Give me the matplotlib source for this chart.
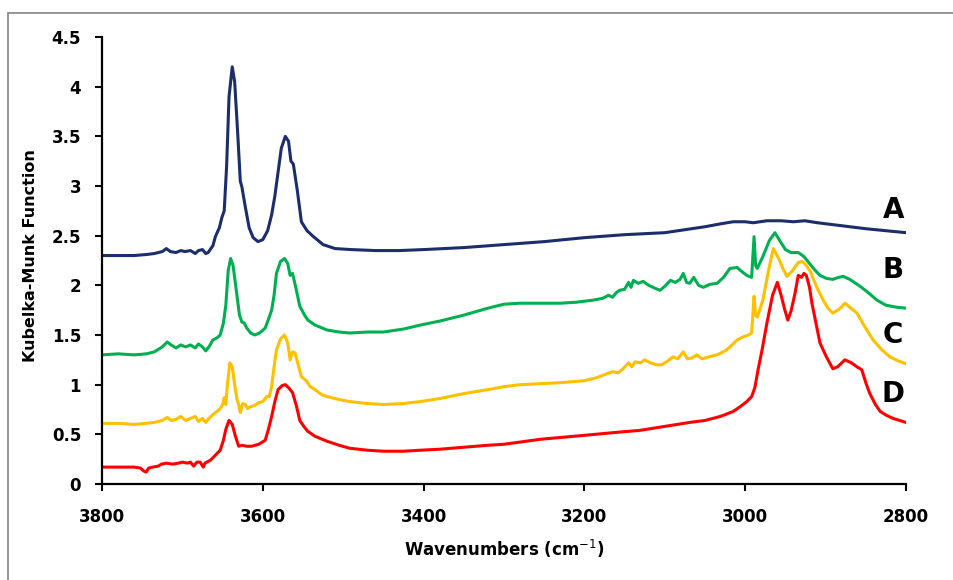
import matplotlib
matplotlib.use("Agg")
import matplotlib.pyplot as plt
from matplotlib.patches import Rectangle
from matplotlib.ticker import FuncFormatter, MultipleLocator

# ---- spectra (wavenumber, Kubelka-Munk value) ----
wn_a = [3800, 3780, 3760, 3745, 3735, 3725, 3720, 3715, 3708, 3702, 3697, 3690, 3684, 3680,
        3675, 3671, 3668, 3662, 3659, 3654, 3651, 3648, 3645, 3642, 3638, 3635, 3631, 3628,
        3626, 3622, 3617, 3612, 3606, 3600, 3594, 3589, 3585, 3581, 3577, 3572, 3568, 3565,
        3562, 3557, 3552, 3545, 3537, 3525, 3510, 3490, 3460, 3430, 3400, 3350, 3300, 3250,
        3200, 3150, 3100, 3075, 3050, 3030, 3015, 3000, 2990, 2973, 2955, 2940, 2926, 2910,
        2880, 2850, 2825, 2800]
km_a = [2.30, 2.30, 2.30, 2.31, 2.32, 2.34, 2.37, 2.34, 2.33, 2.35, 2.34, 2.35, 2.32, 2.35,
        2.36, 2.32, 2.33, 2.40, 2.49, 2.58, 2.68, 2.75, 3.20, 3.90, 4.20, 4.05, 3.50, 3.05,
        2.99, 2.80, 2.58, 2.48, 2.44, 2.46, 2.55, 2.71, 2.90, 3.14, 3.38, 3.50, 3.45, 3.25,
        3.22, 2.95, 2.64, 2.55, 2.49, 2.41, 2.37, 2.36, 2.35, 2.35, 2.36, 2.38, 2.41, 2.44,
        2.48, 2.51, 2.53, 2.56, 2.59, 2.62, 2.64, 2.64, 2.63, 2.65, 2.65, 2.64, 2.65, 2.63,
        2.60, 2.57, 2.55, 2.53]

wn_b = [3800, 3780, 3760, 3745, 3735, 3725, 3719, 3714, 3708, 3702, 3696, 3690, 3684, 3680,
        3675, 3671, 3667, 3662, 3657, 3653, 3649, 3646, 3643, 3640, 3637, 3633, 3629, 3626,
        3623, 3620, 3615, 3610, 3604, 3597, 3592, 3589, 3586, 3583, 3578, 3573, 3569, 3566,
        3563, 3559, 3554, 3548, 3544, 3535, 3520, 3505, 3492, 3470, 3450, 3425, 3404, 3380,
        3350, 3320, 3300, 3280, 3255, 3230, 3210, 3190, 3177, 3170, 3165, 3160, 3156, 3150,
        3145, 3142, 3139, 3133, 3127, 3120, 3112, 3106, 3100, 3093, 3087, 3081, 3077, 3073,
        3069, 3064, 3058, 3052, 3044, 3035, 3027, 3019, 3010, 3006, 2998, 2992, 2989, 2987,
        2985, 2978, 2970, 2963, 2957, 2950, 2943, 2934, 2927, 2922, 2914, 2907, 2899, 2891,
        2884, 2878, 2870, 2857, 2846, 2836, 2825, 2812, 2800]
km_b = [1.30, 1.31, 1.30, 1.31, 1.33, 1.38, 1.43, 1.40, 1.37, 1.40, 1.38, 1.40, 1.37, 1.41,
        1.38, 1.34, 1.38, 1.45, 1.47, 1.50, 1.62, 1.80, 2.15, 2.27, 2.20, 1.95, 1.70, 1.63,
        1.62, 1.57, 1.52, 1.50, 1.52, 1.57, 1.68, 1.75, 1.90, 2.12, 2.24, 2.27, 2.22, 2.10,
        2.12, 1.98, 1.79, 1.70, 1.65, 1.60, 1.55, 1.53, 1.52, 1.53, 1.53, 1.56, 1.60, 1.64,
        1.70, 1.77, 1.81, 1.82, 1.82, 1.82, 1.83, 1.85, 1.87, 1.90, 1.88, 1.93, 1.95, 1.96,
        2.03, 1.98, 2.05, 2.02, 2.04, 2.00, 1.97, 1.95, 1.99, 2.05, 2.03, 2.06, 2.12, 2.03,
        2.02, 2.08, 2.00, 1.98, 2.01, 2.02, 2.08, 2.17, 2.18, 2.15, 2.10, 2.08, 2.49, 2.20,
        2.17, 2.29, 2.45, 2.53, 2.45, 2.36, 2.33, 2.33, 2.29, 2.24, 2.16, 2.10, 2.07, 2.06,
        2.08, 2.09, 2.06, 1.99, 1.92, 1.85, 1.80, 1.78, 1.77]

wn_c = [3800, 3780, 3760, 3745, 3735, 3725, 3719, 3714, 3708, 3702, 3696, 3690, 3684, 3680,
        3675, 3671, 3667, 3662, 3657, 3653, 3650, 3648, 3646, 3644, 3641, 3638, 3635, 3632,
        3630, 3628, 3625, 3622, 3619, 3615, 3610, 3605, 3600, 3595, 3592, 3589, 3586, 3583,
        3578, 3573, 3569, 3566, 3563, 3560, 3556, 3552, 3546, 3541, 3535, 3527, 3520, 3505,
        3492, 3470, 3450, 3425, 3404, 3380, 3350, 3320, 3300, 3280, 3255, 3230, 3200, 3185,
        3172, 3165, 3158, 3152, 3145, 3141, 3137, 3130, 3125, 3118, 3110, 3104, 3096, 3090,
        3084, 3077, 3072, 3066, 3060, 3054, 3045, 3035, 3025, 3019, 3010, 3003, 2996, 2992,
        2989, 2987, 2985, 2978, 2971, 2965, 2959, 2952, 2948, 2941, 2934, 2929, 2924, 2919,
        2911, 2903, 2897, 2891, 2883, 2876, 2870, 2861, 2851, 2841, 2830, 2820, 2810, 2800]
km_c = [0.61, 0.61, 0.60, 0.61, 0.62, 0.64, 0.67, 0.64, 0.65, 0.68, 0.64, 0.66, 0.68, 0.63,
        0.66, 0.62, 0.66, 0.70, 0.73, 0.76, 0.80, 0.87, 0.80, 1.00, 1.22, 1.18, 1.00, 0.85,
        0.80, 0.72, 0.81, 0.80, 0.76, 0.78, 0.79, 0.82, 0.83, 0.88, 0.88, 0.98, 1.18, 1.35,
        1.46, 1.50, 1.42, 1.25, 1.33, 1.32, 1.20, 1.08, 1.04, 0.98, 0.95, 0.90, 0.88, 0.85,
        0.83, 0.81, 0.80, 0.81, 0.83, 0.86, 0.91, 0.95, 0.98, 1.00, 1.01, 1.02, 1.04, 1.07,
        1.11, 1.13, 1.12, 1.16, 1.22, 1.18, 1.23, 1.22, 1.25, 1.22, 1.20, 1.20, 1.24, 1.28,
        1.26, 1.33, 1.26, 1.27, 1.30, 1.26, 1.28, 1.30, 1.34, 1.38, 1.45, 1.48, 1.50, 1.52,
        1.89, 1.70, 1.68, 1.85, 2.15, 2.37, 2.28, 2.15, 2.09, 2.15, 2.23, 2.24, 2.20, 2.14,
        1.98, 1.85, 1.77, 1.72, 1.76, 1.82, 1.78, 1.72, 1.58, 1.45, 1.35, 1.28, 1.24, 1.21]

wn_d = [3800, 3780, 3760, 3752, 3748, 3745, 3742, 3737, 3730, 3726, 3720, 3712, 3705, 3700,
        3694, 3690, 3686, 3682, 3678, 3674, 3672, 3665, 3659, 3653, 3649, 3646, 3642, 3638,
        3634, 3630, 3626, 3620, 3614, 3605, 3597, 3593, 3589, 3585, 3581, 3576, 3572, 3568,
        3563, 3558, 3554, 3549, 3544, 3535, 3520, 3505, 3492, 3470, 3450, 3425, 3404, 3380,
        3350, 3320, 3300, 3255, 3200, 3160, 3131, 3100, 3069, 3050, 3031, 3015, 3006, 2998,
        2992, 2988, 2984, 2979, 2973, 2966, 2960, 2955, 2951, 2947, 2943, 2938, 2934, 2930,
        2927, 2924, 2920, 2917, 2912, 2907, 2899, 2891, 2885, 2876, 2868, 2861, 2855, 2850,
        2845, 2838, 2832, 2824, 2816, 2808, 2800]
km_d = [0.17, 0.17, 0.17, 0.16, 0.13, 0.12, 0.16, 0.17, 0.18, 0.20, 0.21, 0.20, 0.21, 0.22,
        0.21, 0.22, 0.18, 0.22, 0.22, 0.17, 0.21, 0.24, 0.29, 0.34, 0.44, 0.55, 0.64, 0.60,
        0.48, 0.38, 0.39, 0.38, 0.38, 0.40, 0.44, 0.55, 0.68, 0.83, 0.95, 0.99, 1.00, 0.97,
        0.92, 0.78, 0.64, 0.58, 0.53, 0.48, 0.43, 0.39, 0.36, 0.34, 0.33, 0.33, 0.34, 0.35,
        0.37, 0.39, 0.40, 0.45, 0.49, 0.52, 0.54, 0.58, 0.62, 0.64, 0.68, 0.73, 0.78, 0.83,
        0.88, 0.97, 1.15, 1.35, 1.62, 1.90, 2.03, 1.89, 1.76, 1.65, 1.74, 1.92, 2.10, 2.08,
        2.12, 2.10, 1.98, 1.82, 1.62, 1.42, 1.28, 1.16, 1.18, 1.25, 1.22, 1.18, 1.15, 1.02,
        0.91, 0.80, 0.73, 0.69, 0.66, 0.64, 0.62]

series_names = ["A", "B", "C", "D"]
series_colors = ["#1B2D6B", "#00B050", "#FFC000", "#FF0000"]
name_y = [2.76, 2.15, 1.50, 0.91]

x_ticks = [3800, 3600, 3400, 3200, 3000, 2800]
y_ticks = [0, 0.5, 1, 1.5, 2, 2.5, 3, 3.5, 4, 4.5]

plt.rcParams["font.family"] = ["DejaVu Sans"]

W, H = 954, 580
fig = plt.figure(figsize=(W / 100, H / 100), dpi=100)
ax = fig.add_axes([102 / W, 1 - 484 / H, 804 / W, 447 / H])

# outer frame
fig.patches.append(Rectangle((8 / W, -0.2), 1.2, 1 - 13 / H + 0.2, transform=fig.transFigure,
                             fill=False, edgecolor="#8C8C8C", linewidth=1.3))

data = [(wn_a, km_a), (wn_b, km_b), (wn_c, km_c), (wn_d, km_d)]
for (wn, km), col in zip(data, series_colors):
    ax.plot(wn, km, color=col, linewidth=2.2, solid_joinstyle="round", solid_capstyle="round")

for name, yv in zip(series_names, name_y):
    ax.text(2816, yv, name, ha="center", va="center", fontsize=20, fontweight="bold",
            color="black", clip_on=False)

ax.set_xlim(3800, 2800)
ax.set_ylim(0, 4.5)
ax.set_xticks(x_ticks)
ax.set_yticks(y_ticks)
ax.yaxis.set_major_formatter(FuncFormatter(lambda v, p: f"{v:g}"))
ax.xaxis.set_major_formatter(FuncFormatter(lambda v, p: f"{v:g}"))

for s in ["top", "right"]:
    ax.spines[s].set_visible(False)
for s in ["left", "bottom"]:
    ax.spines[s].set_linewidth(1.6)
    ax.spines[s].set_color("black")

ax.tick_params(axis="both", direction="out", length=5, width=1.5, colors="black",
               labelsize=12)
ax.tick_params(axis="y", pad=10)
ax.tick_params(axis="x", pad=12)
for lab in ax.get_xticklabels() + ax.get_yticklabels():
    lab.set_fontweight("bold")

ax.set_xlabel("Wavenumbers (cm$^{-1}$)", fontsize=12, fontweight="bold")
ax.xaxis.label.set_va("center")
ax.xaxis.set_label_coords(0.5, (484 - 549) / 447)
ax.set_ylabel("Kubelka-Munk Function", fontsize=11.5, fontweight="bold")
ax.yaxis.label.set_va("center")
ax.yaxis.set_label_coords((31 - 102) / 804, 0.51)

fig.savefig("out.png", dpi=100)
